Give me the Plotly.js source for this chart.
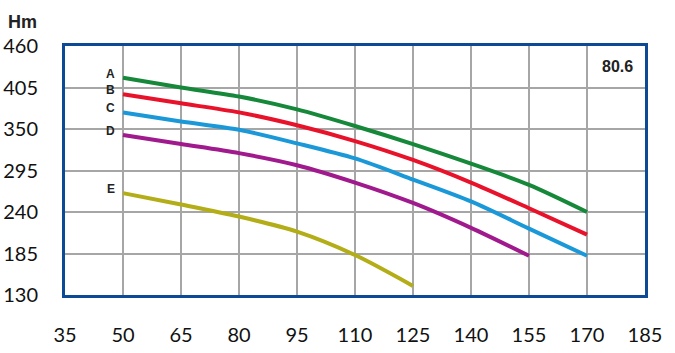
<!DOCTYPE html>
<html>
<head>
<meta charset="utf-8">
<script src="https://cdn.plot.ly/plotly-3.0.1.min.js"></script>
<style>html,body{margin:0;padding:0;background:#fff;}#chart{width:675px;height:353px;}</style>
</head>
<body>
<div id="chart"></div>
<script>
const flowX = [50, 65, 80, 95, 110, 125, 140, 155, 170];
const curveA = [418, 405, 393, 376, 354, 330, 304, 276, 240];
const curveB = [396, 384, 372, 355, 334, 309, 279, 245, 210];
const curveC = [372, 360, 349, 331, 311, 283, 254, 218, 182];
const flowD = [50, 65, 80, 95, 110, 125, 140, 155];
const curveD = [342, 330, 318, 302, 279, 252, 219, 182];
const flowE = [50, 65, 80, 95, 110, 125];
const curveE = [265, 250, 234, 214, 183, 142];
const curveNames = ["A", "B", "C", "D", "E"];
const modelLabel = "80.6";
const xTicks = [35, 50, 65, 80, 95, 110, 125, 140, 155, 170, 185];
const yTicks = [130, 185, 240, 295, 350, 405, 460];

const colors = ["#16883a", "#e8132b", "#1b98d8", "#a01a8e", "#b3ad17"];
const gridColor = "#a6a6a6";
const xs = [flowX, flowX, flowX, flowD, flowE];
const ys = [curveA, curveB, curveC, curveD, curveE];

const traces = ys.map((y, i) => ({
  x: xs[i], y: y, type: "scatter", mode: "lines", name: curveNames[i],
  line: {color: colors[i], width: 4, shape: "spline", smoothing: 0.8},
  showlegend: false, hoverinfo: "skip"
}));

const annotations = ys.map((y, i) => ({
  x: xs[i][0], y: y[0], xref: "x", yref: "y", text: "<b>" + curveNames[i] + "</b>",
  showarrow: false, xanchor: "right", xshift: -6, yshift: 4,
  font: {family: "Liberation Sans, Arial, sans-serif", size: 12, color: "#222"}
}));
annotations.push({
  x: 1, y: 1, xref: "paper", yref: "paper", text: "<b>" + modelLabel + "</b>",
  showarrow: false, xanchor: "right", yanchor: "top", xshift: -10, yshift: -10,
  font: {family: "Liberation Sans, Arial, sans-serif", size: 16, color: "#222"}
});
annotations.push({
  x: 0, y: 1, xref: "paper", yref: "paper", text: "<b>Hm</b>",
  showarrow: false, xanchor: "left", yanchor: "bottom", xshift: -59, yshift: 12,
  font: {family: "Liberation Sans, Arial, sans-serif", size: 18, color: "#222"}
});

const layout = {
  width: 675, height: 353,
  margin: {l: 65, r: 30, t: 46, b: 58},
  paper_bgcolor: "#fff", plot_bgcolor: "#fff",
  showlegend: false,
  xaxis: {
    range: [35, 185], tickvals: xTicks,
    showgrid: true, gridcolor: gridColor, gridwidth: 2,
    zeroline: false, showline: true, mirror: true, linecolor: "#0d4a96", linewidth: 3,
    ticklen: 20, tickcolor: "rgba(0,0,0,0)", ticks: "outside",
    tickfont: {family: "Lato, Open Sans, sans-serif", size: 20, color: "#111"}
  },
  yaxis: {
    range: [130, 460], tickvals: yTicks,
    showgrid: true, gridcolor: gridColor, gridwidth: 2,
    zeroline: false, showline: true, mirror: true, linecolor: "#0d4a96", linewidth: 3,
    ticklen: 20, tickcolor: "rgba(0,0,0,0)", ticks: "outside",
    tickfont: {family: "Lato, Open Sans, sans-serif", size: 20, color: "#111"}
  },
  annotations: annotations
};

Plotly.newPlot("chart", traces, layout, {displayModeBar: false});
</script>
</body>
</html>
